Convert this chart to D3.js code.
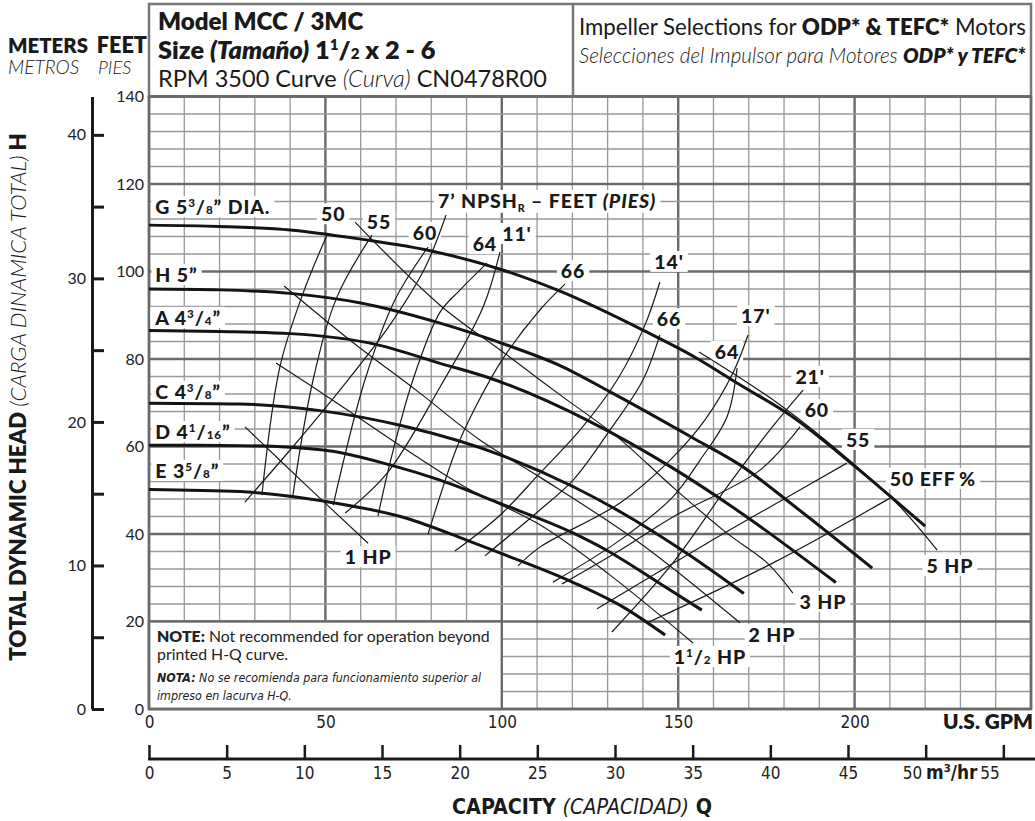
<!DOCTYPE html>
<html>
<head>
<meta charset="utf-8">
<script src="https://cdn.jsdelivr.net/npm/d3@7"></script>
<style>
  body { margin: 0; background: #fff; }
  svg { display: block; font-family: Lato, "Noto Sans", sans-serif; }
</style>
</head>
<body>
<svg id="chart" width="1035" height="821"></svg>
<script>
/* pump curve CN0478R00 */

// axes
const gpmTicks = [0, 50, 100, 150, 200];
const feetTicks = [0, 20, 40, 60, 80, 100, 120, 140];
const meterTicks = [0, 5, 10, 15, 20, 25, 30, 35, 40];
const m3hTicks = [0, 5, 10, 15, 20, 25, 30, 35, 40, 45, 50, 55];

// impeller H-Q curves [gpm, feet]
const curveG = [[0,110.6],[20,110.3],[40,109.5],[60,107.4],[80,104.7],[100,100.4],[116.5,95.5],[140,86.6],[155,80.3],[167.5,74.1],[182,67],[200,55.5],[210,48.7],[220,41.8]];
const curveH = [[0,96],[20,95.8],[40,95],[60,92.8],[82.5,88.2],[101.4,83.2],[116.5,78.5],[130.7,72.5],[155.2,61.5],[167.5,55.8],[183.5,46],[205,32.2]];
const curveA = [[0,86.5],[20,86.3],[40,85.8],[64,83.4],[82.5,79],[96.7,75.6],[125,65.7],[148.6,55],[166.6,45.5],[194.7,28.9]];
const curveC = [[0,69.9],[25.8,69.7],[48.5,68.2],[73,64.5],[99.5,58.1],[120.3,50.8],[134.4,44.7],[152.4,35.6],[168.6,26.4]];
const curveD = [[0,60.3],[25.8,60.2],[49.4,59.2],[68.3,55.8],[82.5,52.3],[99.5,47],[120.3,40.2],[129.7,36.3],[144.8,28.7],[156.7,22.6]];
const curveE = [[0,50.2],[25.8,49.7],[50.4,47.4],[73,43.6],[90,38.6],[100,35.5],[120.3,28.9],[135,23],[146.3,16.9]];

// efficiency branches [gpm, feet]
const eff50L = [[50.7,108.8],[43.7,95.1],[37.1,78.2],[32,48.9]];
const eff55L = [[63.2,108.3],[53.3,94.2],[46.5,75.2],[40.8,48.9]];
const eff60L = [[79.1,105.6],[69.7,93.5],[61.2,75.2],[52.2,46.6]];
const eff64L = [[95.8,101.9],[88.2,95.8],[82.5,90.7],[74.8,75.2],[68.3,56.2],[64.9,44.1]];
const eff66L = [[117.9,97.1],[110.8,91.2],[100.1,79.8],[92.1,68.3],[87.3,59.9],[79.1,40]];
const eff66R = [[144.8,85.5],[140,75.2],[130.7,63.8],[120.2,52.3],[110.8,45.5],[95.2,35]];
const eff64R = [[166.7,77.9],[163.8,66.7],[156.2,56.9],[148.5,48.5],[133.5,38.6],[114.5,29]];
const eff60R = [[184.5,64.5],[173.2,54.6],[148.5,43.9],[133.5,36.3],[117.1,28.6]];
const eff55R = [[197.8,56.2],[178.9,47.5],[158.2,37.9],[127,22.9]];
const eff50R = [[210,48.2],[176.9,33.4],[141.2,19.7]];

// NPSHr lines [gpm, feet]
const npsh7 = [[84.2,112.9],[78.2,100.8],[68.3,87.8],[54.1,72.9],[40,59.2],[27.2,47.3]];
const npsh11 = [[99.5,104.5],[94.7,91.9],[82.5,73.6],[67.5,53.9],[55.6,44.8]];
const npsh14 = [[144.8,97.6],[140.6,87.8],[132.7,75.2],[122.2,63.8],[110.8,53.9],[99.5,44.3],[86.7,36.1]];
const npsh17 = [[169.8,85.5],[165.5,76.8],[157.6,66.1],[147.7,56.9],[133.5,47.1],[110.8,37],[104.6,32.7]];
const npsh21 = [[185.4,72.9],[176,63.8],[163.8,50.7],[148.5,33.4],[131.2,17.6]];

// horsepower lines [gpm, feet]
const hp1 = [[27.2,64.5],[44.2,51.4],[62.1,37.9]];
const hp1_5 = [[36,79.1],[54.1,69.5],[74,58.7],[91,50.1],[110.8,42.1],[130.7,30.6],[154.2,15.1]];
const hp2 = [[38.3,96.7],[57,84.3],[76.8,72.2],[93.8,61.5],[110.8,53],[139.2,37.9],[167.5,19.7]];
const hp3 = [[58.4,111.3],[82.5,92.3],[100.3,81.6],[116.5,71.8],[132.7,62.2],[148.5,50.7],[163.8,40.2],[175.2,33.4],[182.5,26.5]];
const hp5 = [[155.9,81.6],[178.9,69.5],[199.5,56.2],[212.9,46.2],[223.4,36.3]];

const impellers = [curveG, curveH, curveA, curveC, curveD, curveE];
const thinLines = [eff50L, eff55L, eff60L, eff64L, eff66L, eff66R, eff64R, eff60R, eff55R, eff50R,
  npsh7, npsh11, npsh14, npsh17, npsh21, hp1, hp1_5, hp2, hp3, hp5];

// label texts (rich parts) and where they sit [gpm, feet]
const frac = (a, b) => [{ t: a, sup: 1 }, { t: "/" }, { t: b, sub: 1 }];
const impellerLabels = [
  [[{ t: "G 5" }, ...frac("3", "8"), { t: "\u201D DIA." }], 1.8, 114.7],
  [[{ t: "H 5\u201D" }], 1.8, 99.2],
  [[{ t: "A 4" }, ...frac("3", "4"), { t: "\u201D" }], 1.8, 89.4],
  [[{ t: "C 4" }, ...frac("3", "8"), { t: "\u201D" }], 1.8, 72.5],
  [[{ t: "D 4" }, ...frac("1", "16"), { t: "\u201D" }], 1.8, 63.3],
  [[{ t: "E 3" }, ...frac("5", "8"), { t: "\u201D" }], 1.8, 54.4],
];
const curveLabels = [
  [[{ t: "50" }], 52.2, 113.1], [[{ t: "55" }], 65.2, 111.3], [[{ t: "60" }], 78.2, 108.8],
  [[{ t: "64" }], 95.2, 106.3], [[{ t: "66" }], 120.2, 100.1], [[{ t: "66" }], 147.4, 89.1],
  [[{ t: "64" }], 163.8, 81.6], [[{ t: "60" }], 189.3, 68.3], [[{ t: "55" }], 201, 61.5],
  [[{ t: "50 EFF\u2009%" }], 222.2, 52.6],
  [[{ t: "11'" }], 104.3, 108.6], [[{ t: "14'" }], 147.4, 102.2], [[{ t: "17'" }], 172, 89.8],
  [[{ t: "21'" }], 187.4, 75.9],
  [[{ t: "1 HP" }], 62.1, 34.7], [[{ t: "1" }, ...frac("1", "2"), { t: " HP" }], 159, 11.9],
  [[{ t: "2 HP" }], 176.6, 16.9], [[{ t: "3 HP" }], 191, 24.5], [[{ t: "5 HP" }], 227, 32.7],
];
const npshTitle = [{ t: "7\u2019 NPSH" }, { t: "R", low: 1 }, { t: " \u2013 FEET " }, { t: "(PIES)", i: 1 }];

const NARROW = "'Liberation Sans Narrow','DejaVu Sans Condensed','Roboto Condensed',sans-serif";
const svg = d3.select("#chart");

const x = d3.scaleLinear().domain([0, 250]).range([149, 1031]);
const y = d3.scaleLinear().domain([0, 140]).range([709, 96.5]);
const yMeters = d3.scaleLinear().domain([0, 140 * 0.3048]).range([709, 96.5]);
const xM3 = d3.scaleLinear().domain([0, 250 / 4.402868]).range([149, 1031]);

/* rich text helper: tspans with bold / italic / raised / lowered parts */
function rich(parent, parts, fs, attrs) {
  const t = parent.append("text").attr("font-size", fs);
  Object.entries(attrs || {}).forEach(([k, v]) => t.attr(k, v));
  let shift = 0;
  for (const p of parts) {
    const s = t.append("tspan").text(p.t);
    if (p.b) s.attr("font-weight", 800);
    if (p.n) s.attr("font-weight", 400);
    if (p.l) s.attr("font-weight", 300);
    if (p.i) s.attr("font-style", "italic");
    let off = 0, size = fs;
    if (p.sup) { off = -0.36 * fs; size = 0.6 * fs; }
    if (p.sub) { off = 0; size = 0.6 * fs; }
    if (p.low) { off = 0.2 * fs; size = 0.55 * fs; }
    s.attr("font-size", size);
    if (off !== shift) { s.attr("dy", off - shift); shift = off; }
  }
  return t;
}
function fitted(parent, parts, fs, attrs, width) {
  let t = rich(parent, parts, fs, attrs);
  const w = t.node().getBBox().width;
  t.remove();
  return rich(parent, parts, fs * width / w, attrs);
}

/* header box */
svg.append("rect").attr("x", 149).attr("y", 4).attr("width", 882).attr("height", 92.5)
  .attr("fill", "#fff").attr("stroke", "#777").attr("stroke-width", 2.5);
svg.append("line").attr("x1", 573).attr("x2", 573).attr("y1", 4).attr("y2", 96.5)
  .attr("stroke", "#777").attr("stroke-width", 2.5);

const head = svg.append("g").attr("fill", "#1a1a1a");
fitted(head, [{ t: "Model MCC / 3MC", b: 1 }], 22, { x: 158, y: 30 }, 206);
fitted(head, [{ t: "Size ", b: 1 }, { t: "(Tamaño)", b: 1, i: 1 }, { t: " 1", b: 1 },
  { t: "1", b: 1, sup: 1 }, { t: "/", b: 1 }, { t: "2", b: 1, sub: 1 }, { t: " x 2 - 6", b: 1 }],
  22, { x: 158, y: 59 }, 278);
fitted(head, [{ t: "RPM 3500 Curve " }, { t: "(Curva)", i: 1, l: 1 }, { t: " CN0478R00" }],
  21, { x: 158, y: 87 }, 389);
fitted(head, [{ t: "Impeller Selections for " }, { t: "ODP* & TEFC*", b: 1 }, { t: " Motors" }],
  19, { x: 579, y: 35 }, 447);
fitted(head, [{ t: "Selecciones del Impulsor para Motores ", i: 1, l: 1 }, { t: "ODP* y TEFC*", b: 1, i: 1 }],
  17, { x: 579, y: 63 }, 447);

/* unit captions at top left */
fitted(head, [{ t: "METERS", b: 1 }], 17, { x: 8, y: 53 }, 80);
fitted(head, [{ t: "FEET", b: 1 }], 17, { x: 147, y: 53, "text-anchor": "end" }, 51);
fitted(head, [{ t: "METROS", i: 1, l: 1 }], 15, { x: 8, y: 74 }, 72);
fitted(head, [{ t: "PIES", i: 1, l: 1 }], 15, { x: 98, y: 74 }, 34);

/* grid */
const grid = svg.append("g");
grid.selectAll("line.v").data(d3.range(0, 251, 10)).join("line").attr("class", "v")
  .attr("x1", d => x(d)).attr("x2", d => x(d)).attr("y1", y(0)).attr("y2", y(140))
  .attr("stroke", d => d % 50 ? "#989898" : "#6a6a6a").attr("stroke-width", d => d % 50 ? 1.3 : 2.4);
grid.selectAll("line.h").data(d3.range(0, 141, 4)).join("line").attr("class", "h")
  .attr("y1", d => y(d)).attr("y2", d => y(d)).attr("x1", x(0)).attr("x2", x(250))
  .attr("stroke", d => d % 20 ? "#989898" : "#6a6a6a").attr("stroke-width", d => d % 20 ? 1.3 : 2.4);

/* note box */
svg.append("rect").attr("x", x(0)).attr("y", y(20)).attr("width", x(100) - x(0)).attr("height", y(0) - y(20))
  .attr("fill", "#fff").attr("stroke", "#6a6a6a").attr("stroke-width", 2.4);
const note = svg.append("g").attr("fill", "#222");
const noteLine = fitted(note, [{ t: "NOTE:", b: 1 }, { t: " Not recommended for operation beyond" }], 14.5, { x: 157, y: 642 }, 333);
rich(note, [{ t: "printed H-Q curve." }], +noteLine.attr("font-size"), { x: 157, y: 660 });
const notaLine = fitted(note, [{ t: "NOTA:", b: 1, i: 1 }, { t: " No se recomienda para funcionamiento superior al", i: 1 }],
  13, { x: 157, y: 682, "font-family": NARROW }, 325);
rich(note, [{ t: "impreso en lacurva H-Q.", i: 1 }], +notaLine.attr("font-size"), { x: 157, y: 700, "font-family": NARROW });

/* plot border */
svg.append("rect").attr("x", x(0)).attr("y", y(140)).attr("width", x(250) - x(0)).attr("height", y(0) - y(140))
  .attr("fill", "none").attr("stroke", "#6a6a6a").attr("stroke-width", 2.5);

/* label backgrounds + texts */
const bgLayer = svg.append("g");
const lineLayer = svg.append("g");
const textLayer = svg.append("g").attr("fill", "#1a1a1a").attr("font-weight", 900).attr("letter-spacing", 0.9);

function label(parts, q, h, anchor, fs, width) {
  const attrs = { x: x(q), y: y(h) + 0.36 * fs, "text-anchor": anchor };
  const t = width ? fitted(textLayer, parts, fs, attrs, width) : rich(textLayer, parts, fs, attrs);
  const b = t.node().getBBox();
  bgLayer.append("rect").attr("x", b.x - 4).attr("y", b.y + 1).attr("width", b.width + 8)
    .attr("height", b.height - 2).attr("fill", "#fff");
}
impellerLabels.forEach(([p, q, h]) => label(p, q, h, "start", 19.5));
curveLabels.forEach(([p, q, h]) => label(p, q, h, "middle", 19.5));
label(npshTitle, 81.9, 116.1, "start", 19, 219);

/* curves */
const thinLine = d3.line().x(d => x(d[0])).y(d => y(d[1])).curve(d3.curveCatmullRom.alpha(0.5));
const thickLine = d3.line().x(d => x(d[0])).y(d => y(d[1])).curve(d3.curveMonotoneX);

lineLayer.selectAll("path.thin").data(thinLines).join("path").attr("class", "thin")
  .attr("d", thinLine).attr("fill", "none").attr("stroke", "#1a1a1a").attr("stroke-width", 1.2);
lineLayer.selectAll("path.imp").data(impellers).join("path").attr("class", "imp")
  .attr("d", thickLine).attr("fill", "none").attr("stroke", "#141414").attr("stroke-width", 3);

/* feet axis */
const feetAxis = svg.append("g").attr("transform", `translate(${x(0)},0)`)
  .call(d3.axisLeft(y).tickValues(feetTicks).tickSize(0).tickPadding(5));
feetAxis.select(".domain").remove();
feetAxis.selectAll("text").attr("font-size", 16).attr("font-family", "Lato").attr("fill", "#222");

/* meters axis */
const meterAxis = svg.append("g").attr("transform", "translate(92,0)")
  .call(d3.axisLeft(yMeters).tickValues(meterTicks).tickSizeInner(-12).tickSizeOuter(0).tickPadding(6)
    .tickFormat(d => d % 10 ? "" : d));
meterAxis.select(".domain").attr("stroke", "#1a1a1a").attr("stroke-width", 3);
meterAxis.selectAll(".tick line").attr("stroke", "#1a1a1a").attr("stroke-width", 3);
meterAxis.selectAll("text").attr("font-size", 16).attr("font-family", "Lato").attr("fill", "#222");

/* GPM axis labels */
const gpmAxis = svg.append("g").attr("transform", `translate(0,${y(0)})`)
  .call(d3.axisBottom(x).tickValues(gpmTicks).tickSize(0).tickPadding(7));
gpmAxis.select(".domain").remove();
gpmAxis.selectAll("text").attr("font-size", 17).attr("font-family", NARROW).attr("fill", "#222");
fitted(svg, [{ t: "U.S. GPM", b: 1 }], 18, { x: 1033, y: 729, "text-anchor": "end", fill: "#1a1a1a" }, 90);

/* m3/hr axis */
const m3Axis = svg.append("g").attr("transform", "translate(0,759)")
  .call(d3.axisBottom(xM3).tickValues(m3hTicks).tickSizeInner(-14).tickSizeOuter(0).tickPadding(8));
m3Axis.select(".domain").remove();
m3Axis.selectAll(".tick line").attr("stroke", "#1a1a1a").attr("stroke-width", 2.5);
m3Axis.selectAll("text").attr("font-size", 17).attr("font-family", NARROW).attr("fill", "#222");
m3Axis.selectAll(".tick text").filter(d => d >= 50).attr("text-anchor", "end").attr("x", -4);
svg.append("line").attr("x1", 148).attr("x2", 1035).attr("y1", 759).attr("y2", 759)
  .attr("stroke", "#1a1a1a").attr("stroke-width", 3);
fitted(svg, [{ t: "m", b: 1 }, { t: "3", b: 1, sup: 1 }, { t: "/hr", b: 1 }], 17,
  { x: xM3(50) + 26, y: 779, "text-anchor": "middle", fill: "#1a1a1a", "font-family": NARROW }, 52);

/* axis titles */
fitted(svg, [{ t: "TOTAL DYNAMIC HEAD ", b: 1 }, { t: "(CARGA DINAMICA TOTAL)", i: 1, l: 1 }, { t: " H", b: 1 }],
  17, { transform: "translate(20,397) rotate(-90)", y: 6, "text-anchor": "middle", fill: "#1a1a1a" }, 528);
fitted(svg, [{ t: "CAPACITY ", b: 1 }, { t: "(CAPACIDAD)", i: 1, l: 1 }, { t: " Q", b: 1 }],
  17, { x: 582, y: 814, "text-anchor": "middle", fill: "#1a1a1a", "font-family": NARROW }, 260);
</script>
</body>
</html>
